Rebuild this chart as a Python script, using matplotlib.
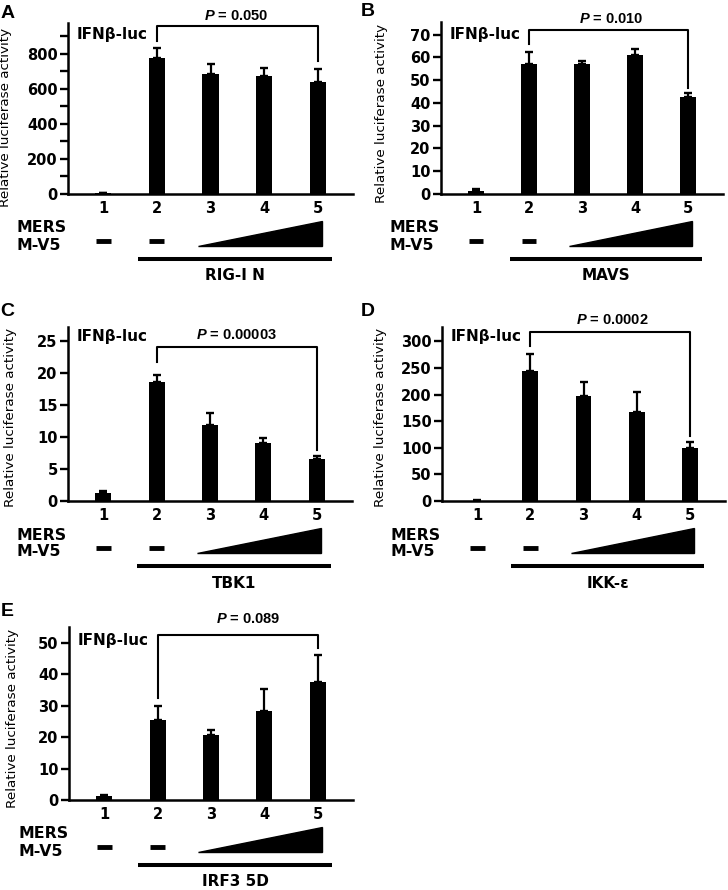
import numpy as np
import matplotlib.pyplot as plt
from matplotlib.patches import Polygon

plt.rcParams['font.family'] = ['DejaVu Sans']
plt.rcParams['mathtext.fontset'] = 'custom'
plt.rcParams['mathtext.it'] = 'Liberation Sans:italic:bold'
plt.rcParams['mathtext.rm'] = 'Liberation Sans:bold'

W, H = 728, 890

# lanes 1-5, mean + upper error
lanes = [1, 2, 3, 4, 5]

rig_mean = [5, 774, 687, 674, 640]
rig_err = [3, 60, 56, 47, 75]

mavs_mean = [1.5, 56.9, 56.9, 61.0, 42.4]
mavs_err = [0.5, 5.5, 1.4, 2.6, 1.9]

tbk_mean = [1.2, 18.6, 11.85, 9.0, 6.5]
tbk_err = [0.3, 1.15, 1.85, 0.9, 0.6]

ikk_mean = [0.8, 243.6, 197.4, 168, 99.4]
ikk_err = [0.3, 32, 26.6, 37, 11.6]

irf_mean = [1.2, 25.4, 20.8, 28.2, 37.4]
irf_err = [0.4, 4.6, 1.5, 7.2, 8.7]

genes = ['RIG-I N', 'MAVS', 'TBK1', 'IKK-ε', 'IRF3 5D']
p_values = ['0.050', '0.010', '0.00003', '0.0002', '0.089']
# bracket: (height, left leg end, right leg end)
brackets = [(957, 872, 758), (71.9, 65.7, 46.4), (24.0, 21.8, 8.0),
            (317, 292, 122), (52.6, 32.4, 48.2)]

fig = plt.figure(figsize=(W / 100, H / 100), dpi=100)


def pt(px):
    return px * 72 / 100


def add_axes_px(left, right, top, bottom):
    return fig.add_axes([left / W, 1 - bottom / H, (right - left) / W, (bottom - top) / H])


def draw_panel(ax, box, means, errs, ylim, yticks, minor, gene, pval, bracket,
               p_x, p_off, ylab_off, ylab_y, ifn_dy):
    left, right, top, bottom = box
    h = bottom - top

    ax.bar(lanes, means, width=0.3, color='black', zorder=2)
    ax.errorbar(lanes, means, yerr=[np.zeros(len(errs)), errs], fmt='none',
                ecolor='black', elinewidth=1.6, capsize=2.7, capthick=1.7, zorder=3)

    ax.set_xlim(0.34, 5.66)
    ax.set_ylim(0, ylim)
    for s in ['top', 'right']:
        ax.spines[s].set_visible(False)
    for s in ['left', 'bottom']:
        ax.spines[s].set_linewidth(1.8)

    ax.set_yticks(yticks, labels=[str(t) for t in yticks], fontweight='bold', fontsize=10.5)
    if minor:
        ax.set_yticks(minor, minor=True)
    ax.tick_params(axis='y', which='both', length=5.5, width=1.7, pad=2)
    ax.set_xticks(lanes, labels=[str(l) for l in lanes], fontweight='bold', fontsize=10.5)
    ax.tick_params(axis='x', length=0, pad=5)

    ax.set_ylabel('Relative luciferase activity', fontsize=9.7)
    ax.yaxis.set_label_coords(-ylab_off / (right - left), ylab_y)

    # significance bracket
    b_top, b_left, b_right = bracket
    ax.plot([2, 2, 5, 5], [b_left, b_top, b_top, b_right], color='black', lw=1.5,
            clip_on=False)
    ax.annotate('$P$ = ' + pval, xy=(p_x, b_top), xytext=(0, pt(p_off)),
                textcoords='offset points', ha='center', va='center',
                fontfamily='Liberation Sans', fontweight='bold', fontsize=10.5)

    ax.annotate('IFNβ-luc', xy=(0, 1), xycoords='axes fraction',
                xytext=(pt(9), -pt(ifn_dy)), textcoords='offset points',
                ha='left', va='center', fontweight='bold', fontsize=11)

    # treatment scheme below the axis
    trans = ax.get_xaxis_transform()

    def fy(px):
        return -px / h

    for lbl, dy in [('MERS', 34), ('M-V5', 51)]:
        ax.annotate(lbl, xy=(0, 0), xycoords='axes fraction',
                    xytext=(-pt(51), -pt(dy)), textcoords='offset points',
                    ha='left', va='center', fontweight='bold', fontsize=11.3)
    for x in [1, 2]:
        ax.plot([x - 0.14, x + 0.14], [fy(47), fy(47)], transform=trans, color='black',
                lw=3.5, solid_capstyle='butt', clip_on=False)
    tri = Polygon([[2.76, fy(52)], [5.08, fy(52)], [5.08, fy(27)]], closed=True,
                  transform=trans, color='black', clip_on=False)
    ax.add_patch(tri)
    ax.plot([1.64, 5.26], [fy(65), fy(65)], transform=trans, color='black', lw=2.9,
            solid_capstyle='butt', clip_on=False)
    ax.text(3.45, fy(82), gene, transform=trans, ha='center', va='center',
            fontweight='bold', fontsize=11)


boxes = [(68, 353, 23, 194), (441, 723, 22, 194), (68, 352, 327, 501),
         (442, 725, 327, 501), (69, 353, 627, 800)]
means = [rig_mean, mavs_mean, tbk_mean, ikk_mean, irf_mean]
errs = [rig_err, mavs_err, tbk_err, ikk_err, irf_err]
ylims = [975, 75.5, 27.2, 327, 55]
yticks = [[0, 200, 400, 600, 800], [0, 10, 20, 30, 40, 50, 60, 70],
          [0, 5, 10, 15, 20, 25], [0, 50, 100, 150, 200, 250, 300],
          [0, 10, 20, 30, 40, 50]]
minors = [[100, 300, 500, 700, 900], None, None, None, None]
p_xs = [3.49, 3.55, 3.5, 3.55, 3.7]
p_offs = [10, 11, 12, 12, 16]
ylab_offs = [56, 53, 51, 55, 50]
ylab_ys = [0.45, 0.47, 0.48, 0.48, 0.47]
ifn_dys = [11, 12, 9, 10, 14]

letters = [('A', 8, 13), ('B', 368, 12), ('C', 7, 311), ('D', 368, 312), ('E', 7, 611)]

for i in range(5):
    ax = add_axes_px(*boxes[i])
    draw_panel(ax, boxes[i], means[i], errs[i], ylims[i], yticks[i], minors[i],
               genes[i], p_values[i], brackets[i], p_xs[i], p_offs[i],
               ylab_offs[i], ylab_ys[i], ifn_dys[i])

for letter, x, y in letters:
    fig.text(x / W, 1 - y / H, letter, ha='center', va='center',
             fontfamily='Liberation Sans', fontweight='bold', fontsize=14)

fig.savefig('out.png', dpi=100)
